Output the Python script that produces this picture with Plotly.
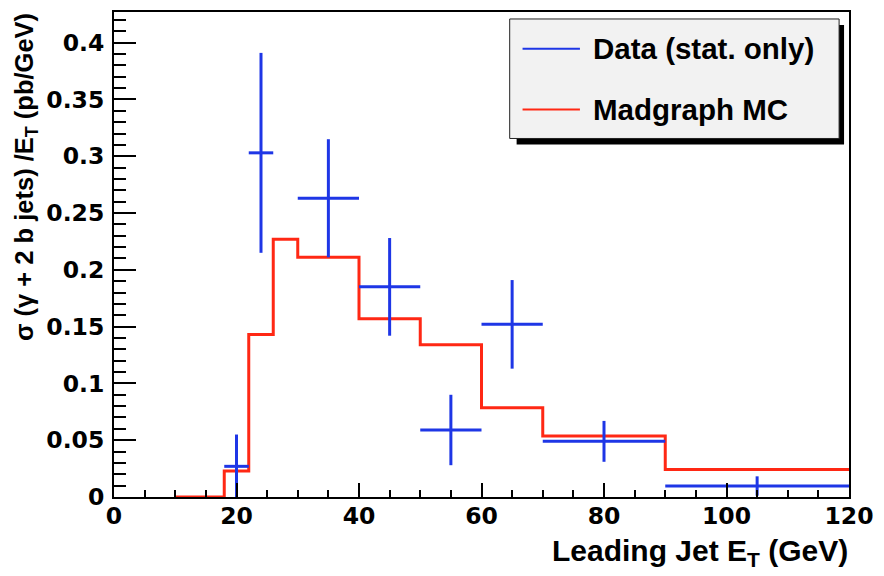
import plotly.graph_objects as go

# ---- measured cross section: photon + 2 b-jets vs leading jet E_T ----
data_x = [20, 24, 35, 45, 55, 65, 80, 105]
data_xerr = [2, 2, 5, 5, 5, 5, 10, 15]
data_y = [0.027, 0.303, 0.263, 0.185, 0.059, 0.152, 0.049, 0.0097]
data_yerr = [0.028, 0.088, 0.052, 0.043, 0.031, 0.039, 0.018, 0.0085]

# ---- Madgraph MC prediction (histogram bin edges and contents) ----
mc_edges = [10, 18, 22, 26, 30, 40, 50, 60, 70, 90, 120]
mc_vals = [0.0, 0.0228, 0.143, 0.227, 0.211, 0.157, 0.134, 0.0786, 0.0538, 0.0243]

x_ticks = [0, 20, 40, 60, 80, 100, 120]
y_ticks = [0, 0.05, 0.1, 0.15, 0.2, 0.25, 0.3, 0.35, 0.4]
y_tick_text = ["0", "0.05", "0.1", "0.15", "0.2", "0.25", "0.3", "0.35", "0.4"]

BLUE = "#1e36e6"
RED = "#ff2814"
TICK_FONT = dict(family="DejaVu Sans", size=23.5, color="black", weight="bold")
TITLE_FONT = "Liberation Sans"

W, H = 884, 576
L, R, T, B = 114, 27, 10, 79
PW, PH = W - L - R, H - T - B


def px(xp):
    return (xp - L) / PW


def py(yp):
    return (H - B - yp) / PH


fig = go.Figure()

# MC step histogram
fig.add_trace(go.Scatter(
    x=mc_edges, y=mc_vals + [mc_vals[-1]],
    mode="lines", line=dict(color=RED, width=3, shape="hv"),
    name="Madgraph MC", showlegend=False, hoverinfo="skip",
))

# data points with statistical error bars
fig.add_trace(go.Scatter(
    x=data_x, y=data_y, mode="markers",
    marker=dict(size=1, color=BLUE, opacity=0),
    error_x=dict(type="data", array=data_xerr, color=BLUE, thickness=3, width=0),
    error_y=dict(type="data", array=data_yerr, color=BLUE, thickness=3, width=0),
    name="Data (stat. only)", showlegend=False,
))

axis_common = dict(
    showgrid=False, zeroline=False, showline=True, linecolor="black",
    linewidth=2, mirror=True, ticks="inside", tickcolor="black",
    tickwidth=2, tickfont=TICK_FONT,
)

fig.update_xaxes(
    range=[0, 120], tickvals=x_ticks, ticklen=14,
    minor=dict(dtick=5, ticks="inside", ticklen=7, tickcolor="black", tickwidth=2),
    ticklabelstandoff=-3,
    **axis_common,
)
fig.update_yaxes(
    range=[0, 0.427], tickvals=y_ticks, ticktext=y_tick_text, ticklen=22,
    minor=dict(dtick=0.01, ticks="inside", ticklen=12, tickcolor="black", tickwidth=2),
    ticklabelstandoff=3,
    **axis_common,
)

# legend box with drop shadow
shapes = [
    dict(type="rect", xref="paper", yref="paper",
         x0=px(521), x1=px(852), y0=py(143), y1=py(23),
         fillcolor="black", line=dict(width=0)),
    dict(type="rect", xref="paper", yref="paper",
         x0=px(514), x1=px(847), y0=py(137), y1=py(17),
         fillcolor="#f2f2f2", line=dict(color="#222222", width=1)),
    dict(type="line", xref="paper", yref="paper",
         x0=px(527), x1=px(585), y0=py(47), y1=py(47),
         line=dict(color=BLUE, width=2)),
    dict(type="line", xref="paper", yref="paper",
         x0=px(527), x1=px(585), y0=py(108), y1=py(108),
         line=dict(color=RED, width=2)),
]

legend_font = dict(family=TITLE_FONT, size=29.5, color="black", weight="bold")
annotations = [
    dict(text="Data (stat. only)", xref="paper", yref="paper",
         x=px(596), y=py(47), xanchor="left", yanchor="middle",
         showarrow=False, font=legend_font),
    dict(text="Madgraph MC", xref="paper", yref="paper",
         x=px(596), y=py(108), xanchor="left", yanchor="middle",
         showarrow=False, font=legend_font),
    dict(text="Leading Jet E<sub>T</sub> (GeV)", xref="paper", yref="paper",
         x=px(858), y=py(553), xanchor="right", yanchor="middle",
         showarrow=False,
         font=dict(family=TITLE_FONT, size=30, color="black", weight="bold")),
    dict(text="σ (γ + 2 b jets) /E<sub>T</sub> (pb/GeV)", xref="paper", yref="paper",
         x=px(25), y=py(9), xanchor="center", yanchor="top", textangle=-90,
         showarrow=False,
         font=dict(family=TITLE_FONT, size=25.5, color="black", weight="bold")),
]

fig.update_layout(
    width=W, height=H,
    margin=dict(l=L, r=R, t=T, b=B, pad=0),
    paper_bgcolor="white", plot_bgcolor="white",
    showlegend=False,
    shapes=shapes, annotations=annotations,
    font=dict(family=TITLE_FONT, color="black"),
)

fig.write_html("out.html")
